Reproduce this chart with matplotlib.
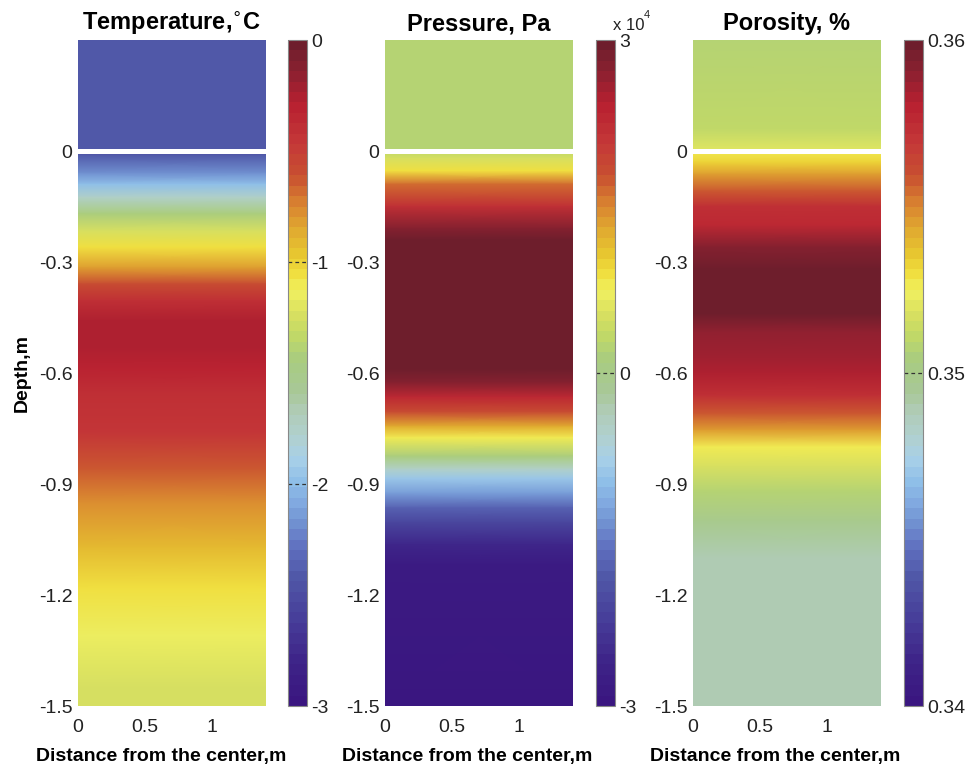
import numpy as np
import matplotlib.pyplot as plt
from matplotlib.colors import LinearSegmentedColormap

plt.rcParams['font.family'] = ['Liberation Sans', 'DejaVu Sans']
plt.rcParams['axes.unicode_minus'] = False

# profiles (depth in m, negative = below surface)
temp_depth = [0.0, -0.01, -0.06, -0.09, -0.125, -0.17, -0.215, -0.26, -0.315, -0.36,
              -0.405, -0.46, -0.53, -0.585, -0.655, -0.76, -0.86, -0.95, -1.07,
              -1.18, -1.31, -1.45, -1.5]
temp_vals = [-2.45, -2.43, -2.2, -2.0, -1.75, -1.45, -1.25, -1.05, -0.8, -0.6,
             -0.4, -0.24, -0.24, -0.32, -0.42, -0.45, -0.62, -0.76, -0.93,
             -1.07, -1.15, -1.22, -1.25]
temp_air_depth = [0.3, 0.0]
temp_air_vals = [-2.43, -2.43]

pres_depth = [0.0, -0.02, -0.054, -0.09, -0.15, -0.21, -0.24, -0.59, -0.625, -0.665,
              -0.705, -0.745, -0.775, -0.825, -0.86, -0.885, -0.925, -0.965, -1.005,
              -1.065, -1.12, -1.5]
pres_vals = [0.35e4, 0.5e4, 0.9e4, 1.6e4, 2.2e4, 2.8e4, 3.0e4, 3.0e4, 2.8e4, 2.3e4,
             1.8e4, 1.3e4, 0.8e4, 0.1e4, -0.5e4, -0.9e4, -1.3e4, -1.7e4, -2.1e4,
             -2.6e4, -2.9e4, -3.0e4]
pres_air_depth = [0.3, 0.0]
pres_air_vals = [0.25e4, 0.25e4]

poro_depth = [0.0, -0.03, -0.063, -0.108, -0.15, -0.2, -0.26, -0.32, -0.44, -0.49,
              -0.56, -0.60, -0.66, -0.71, -0.755, -0.80, -0.855, -0.92, -1.0,
              -1.1, -1.2, -1.5]
poro_vals = [0.3528, 0.3533, 0.3544, 0.3558, 0.3572, 0.3578, 0.3592, 0.36, 0.36, 0.359,
             0.3585, 0.3582, 0.3574, 0.3558, 0.3544, 0.3528, 0.3518, 0.3508, 0.3500,
             0.3490, 0.3488, 0.3488]
poro_air_depth = [0.3, 0.06, 0.0]
poro_air_vals = [0.3508, 0.3510, 0.3521]

# matlab-like colour scale
cm_colors = ['#3a1680', '#3e2488', '#463c98', '#5058a8', '#6070c0', '#7090d0',
             '#80a8e0', '#90c0e8', '#a8d0e8', '#b0d0d0', '#b0ccb8', '#a8c898',
             '#a8cc80', '#c0d868', '#d8e060', '#f0f060', '#f0e040', '#e8c830',
             '#e0a830', '#d88030', '#c85030', '#c43838', '#b82030', '#8a2030',
             '#6e1e2c']
cm_pos = [0.0, 0.06, 0.12, 0.19, 0.235, 0.27, 0.30, 0.335, 0.37, 0.40, 0.44, 0.47,
          0.52, 0.555, 0.59, 0.625, 0.65, 0.68, 0.72, 0.76, 0.80, 0.85, 0.91, 0.96,
          1.0]
cmap = LinearSegmentedColormap.from_list('mat', list(zip(cm_pos, cm_colors)), N=64)

fig = plt.figure(figsize=(9.67, 7.68), dpi=100)

lefts = [0.0807, 0.3981, 0.7166]
cblefts = [0.2978, 0.6163, 0.9348]
bot, h = 0.0807, 0.8672
w = 0.1944


def panel(i, depth, vals, air_d, air_v, vmin, vmax, title, ticks, tlabels):
    ax = fig.add_axes([lefts[i], bot, w, h])
    cax = fig.add_axes([cblefts[i], bot, 0.0196, h])
    x = [0, 1.4]
    d = np.array(depth)
    v = np.array(vals)
    X, Y = np.meshgrid(x, d)
    C = np.column_stack([v, v])
    m = ax.pcolormesh(X, Y, C, shading='gouraud', cmap=cmap, vmin=vmin, vmax=vmax)
    X2, Y2 = np.meshgrid(x, air_d)
    C2 = np.column_stack([air_v, air_v])
    ax.pcolormesh(X2, Y2, C2, shading='gouraud', cmap=cmap, vmin=vmin, vmax=vmax)
    ax.axhline(0, color='white', lw=3.6)
    ax.set_xlim(0, 1.4)
    ax.set_ylim(-1.5, 0.3)
    ax.set_xticks([0, 0.5, 1])
    ax.set_xticklabels(['0', '0.5', '1'])
    ax.set_yticks([0, -0.3, -0.6, -0.9, -1.2, -1.5])
    ax.set_yticklabels(['0', '-0.3', '-0.6', '-0.9', '-1.2', '-1.5'])
    ax.tick_params(axis='y', length=0, labelsize=14, colors='#222222', pad=4)
    ax.tick_params(axis='x', length=0, labelsize=14, colors='#222222', pad=9)
    for s in ax.spines.values():
        s.set_visible(False)
    ax.set_title(title, fontsize=17, fontweight='bold', pad=7)
    ax.set_xlabel('Distance from the center,m', fontsize=14, fontweight='bold')
    ax.xaxis.set_label_coords(0.44, -0.063)

    cb = fig.colorbar(m, cax=cax)
    cb.outline.set_edgecolor('#888888')
    cb.outline.set_linewidth(0.8)
    cb.set_ticks(ticks)
    cb.set_ticklabels(tlabels)
    cax.tick_params(length=0, labelsize=14, colors='#222222', pad=3)
    for t in ticks[1:-1]:
        cax.axhline(t, color='#333333', lw=0.9, ls=(0, (3, 2.5)))
    return ax, cax


ax1, c1 = panel(0, temp_depth, temp_vals, temp_air_depth, temp_air_vals, -3, 0,
                'Temperature,$^{\\circ}$C', [0, -1, -2, -3], ['0', '-1', '-2', '-3'])
ax1.set_ylabel('Depth,m', fontsize=14, fontweight='bold', labelpad=6)

ax2, c2 = panel(1, pres_depth, pres_vals, pres_air_depth, pres_air_vals, -3e4, 3e4,
                'Pressure, Pa', [3e4, 0, -3e4], ['3', '0', '-3'])
c2.text(0.9, 1.01, 'x 10', transform=c2.transAxes, fontsize=12, ha='left', va='bottom',
        color='#222222')
c2.text(2.5, 1.03, '4', transform=c2.transAxes, fontsize=8, ha='left', va='bottom',
        color='#222222')

ax3, c3 = panel(2, poro_depth, poro_vals, poro_air_depth, poro_air_vals, 0.34, 0.36,
                'Porosity, %', [0.36, 0.35, 0.34], ['0.36', '0.35', '0.34'])

fig.savefig('out.png', dpi=100)
